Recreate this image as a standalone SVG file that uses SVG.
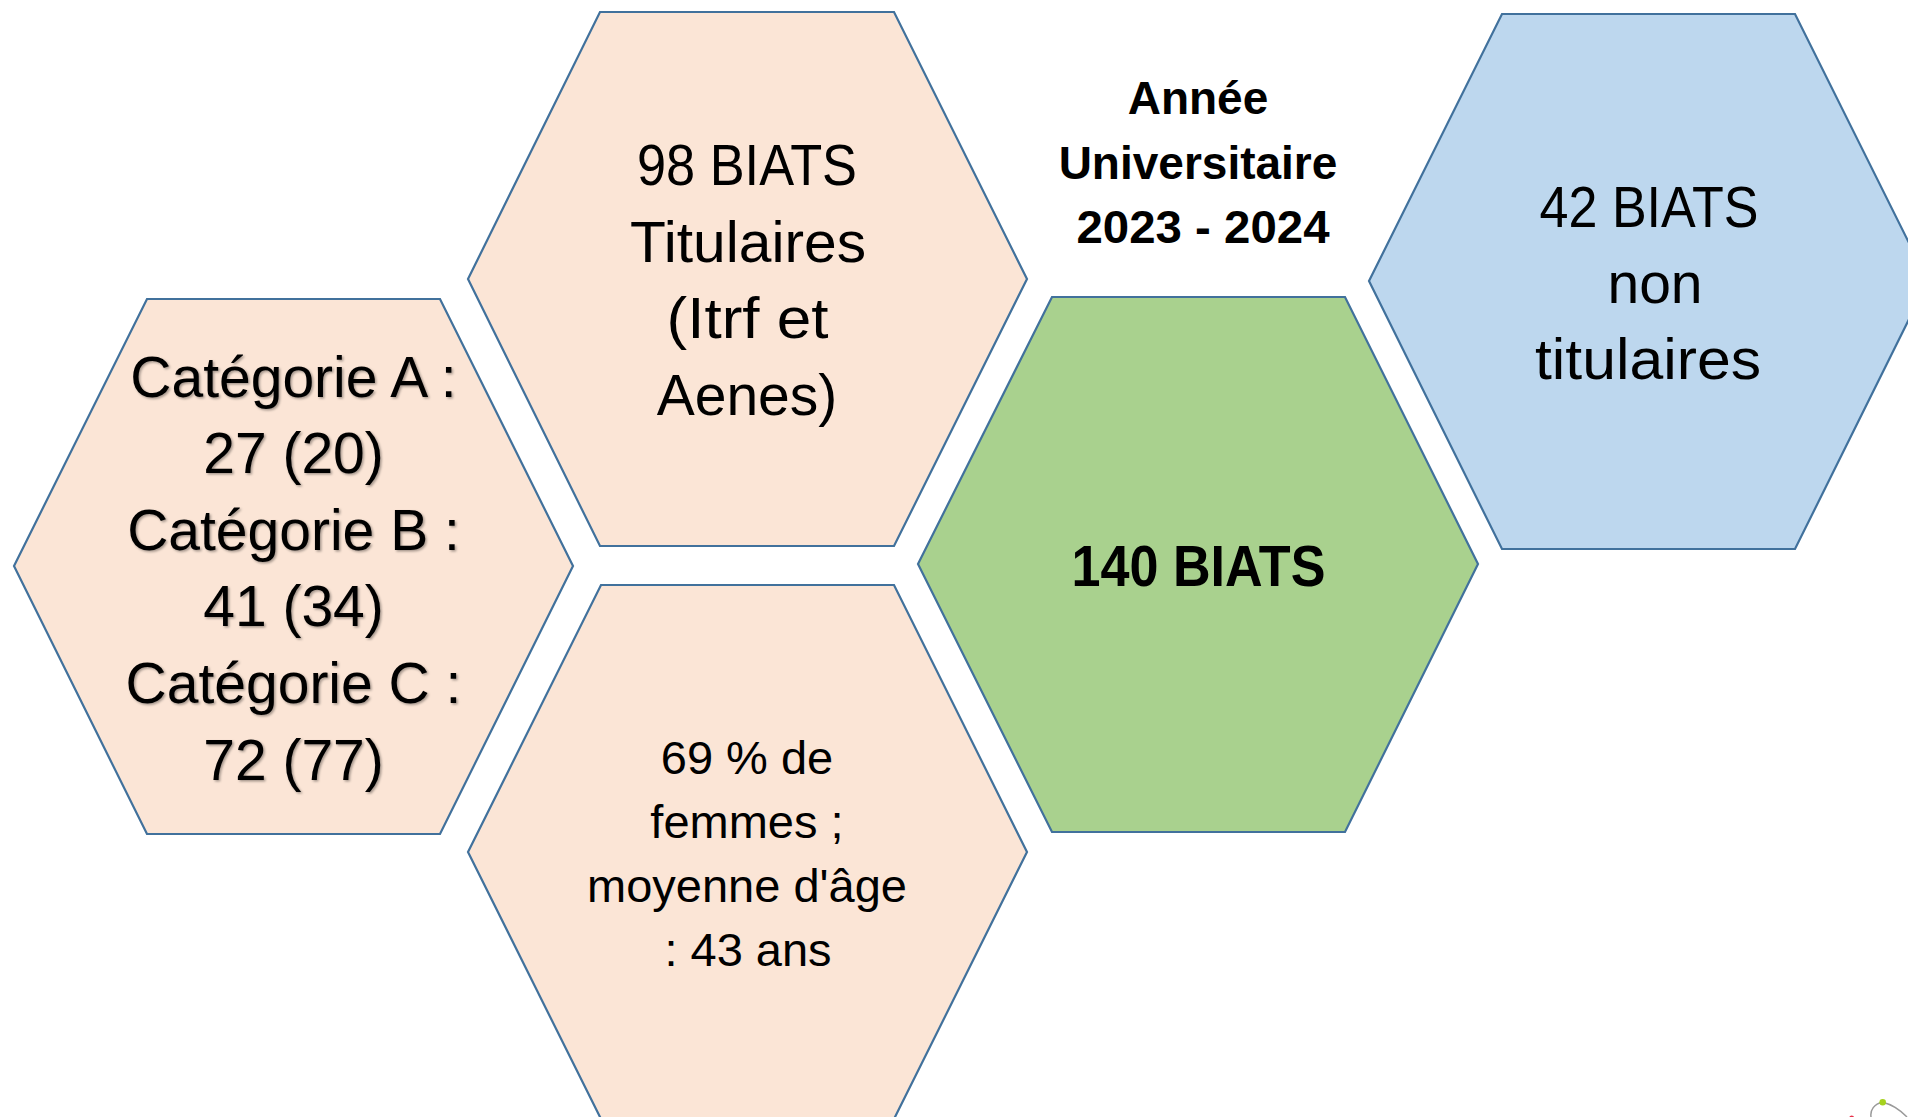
<svg xmlns="http://www.w3.org/2000/svg" width="1908" height="1117" viewBox="0 0 1908 1117">
  <style>
    .hex { stroke: #41719C; stroke-width: 2.2; stroke-linejoin: miter; }
    .peach { fill: #FBE5D6; }
    .green { fill: #A9D18E; }
    .blue { fill: #BDD7EE; }
    text { font-family: "Liberation Sans", Arial, sans-serif; fill: #000000; text-anchor: middle; }
    .big { font-size: 57px; }
    .mid { font-size: 47px; }
    .bold { font-weight: bold; }
  </style>
  <defs>
    <filter id="shadow" x="-10%" y="-10%" width="120%" height="130%">
      <feDropShadow dx="1.5" dy="1.5" stdDeviation="1" flood-color="#000000" flood-opacity="0.35"/>
    </filter>
  </defs>
  <rect width="1908" height="1117" fill="#FFFFFF"/>

  <g id="connectors"></g>

  <g id="node-categories">
    <polygon class="hex peach" points="147,299 440,299 573,566 440,834 147,834 14,566"/>
    <g filter="url(#shadow)">
      <text class="big" x="293.5" y="396.5">Catégorie A :</text>
      <text class="big" x="293.5" y="473">27 (20)</text>
      <text class="big" x="293.5" y="549.5">Catégorie B :</text>
      <text class="big" x="293.5" y="626">41 (34)</text>
      <text class="big" x="293.5" y="702.5">Catégorie C :</text>
      <text class="big" x="293.5" y="779.5">72 (77)</text>
    </g>
  </g>

  <g id="node-titulaires">
    <polygon class="hex peach" points="600,12 894,12 1027,279 894,546 600,546 468,279"/>
    <text class="big" x="747" y="185" textLength="220" lengthAdjust="spacingAndGlyphs">98 BIATS</text>
    <text class="big" x="748" y="261.5" textLength="236" lengthAdjust="spacingAndGlyphs">Titulaires</text>
    <text class="big" x="747.5" y="338" textLength="162" lengthAdjust="spacingAndGlyphs">(Itrf et</text>
    <text class="big" x="747" y="414.5">Aenes)</text>
  </g>

  <g id="node-femmes">
    <polygon class="hex peach" points="601,585 894,585 1027,852 894,1119 601,1119 468,852"/>
    <text class="mid" x="747" y="774">69 % de</text>
    <text class="mid" x="747" y="838">femmes ;</text>
    <text class="mid" x="747" y="901.5">moyenne d'âge</text>
    <text class="mid" x="748" y="966">: 43 ans</text>
  </g>

  <g id="node-total">
    <polygon class="hex green" points="1052,297 1345,297 1478,564 1345,832 1052,832 918,564"/>
    <text class="bold" x="1198.5" y="586.3" font-size="58" textLength="254" lengthAdjust="spacingAndGlyphs">140 BIATS</text>
  </g>

  <g id="node-non-titulaires">
    <polygon class="hex blue" points="1502,14 1795,14 1928,281 1795,549 1502,549 1369,281"/>
    <text class="big" x="1649" y="226.5" textLength="219" lengthAdjust="spacingAndGlyphs">42 BIATS</text>
    <text class="big" x="1655" y="302.5">non</text>
    <text class="big" x="1648" y="379" textLength="226" lengthAdjust="spacingAndGlyphs">titulaires</text>
  </g>

  <g id="title">
    <text class="bold" x="1198" y="114" font-size="46">Année</text>
    <text class="bold" x="1198" y="178.5" font-size="46">Universitaire</text>
    <text class="bold" x="1203" y="242.5" font-size="46" textLength="253" lengthAdjust="spacingAndGlyphs">2023 - 2024</text>
  </g>

  <g id="logo-fragment">
    <path d="M1871,1117 C1870,1110 1874,1104 1882.7,1102.3 C1890,1104 1900,1110 1907,1117" fill="none" stroke="#9A9A9A" stroke-width="1.5"/>
    <circle cx="1882.7" cy="1102.3" r="3.3" fill="#A6D21E"/>
    <circle cx="1851.7" cy="1118" r="2.5" fill="#E8304A"/>
  </g>
</svg>
